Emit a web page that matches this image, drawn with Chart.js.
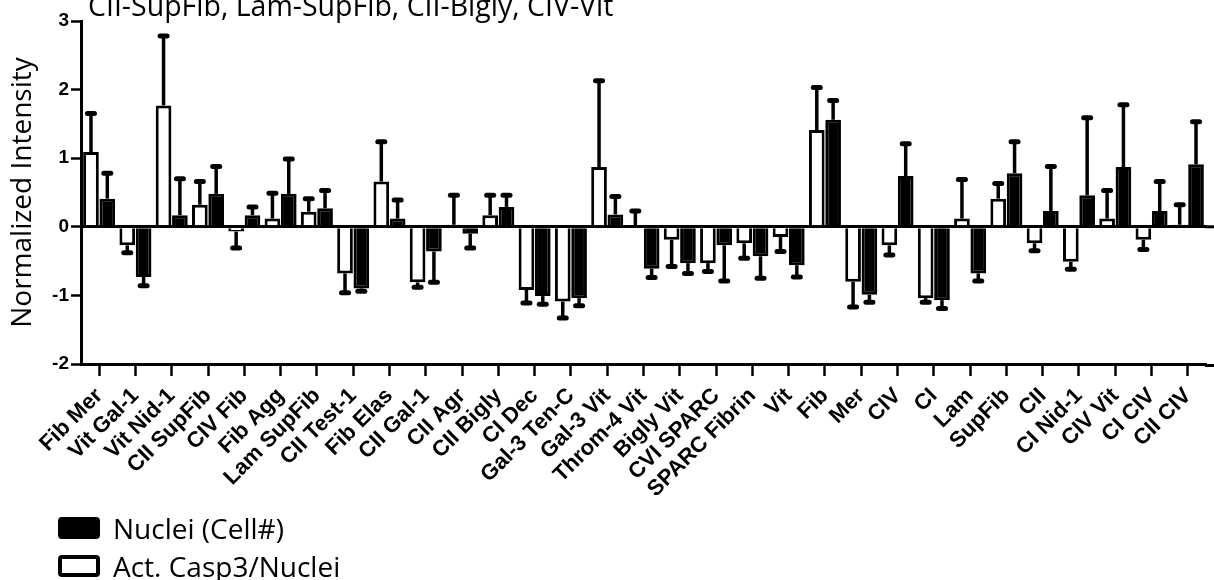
<!DOCTYPE html>
<html>
<head>
<meta charset="utf-8">
<script src="https://cdn.jsdelivr.net/npm/chart.js@4"></script>
<style>
  body { margin: 0; background: #fff; }
  #wrap { position: relative; width: 1214px; height: 580px; overflow: hidden; }
  #chart { position: absolute; left: 0; top: 0; }
  #note { position: absolute; left: 88px; top: -14px; font: 28.5px "Open Sans", sans-serif; color: #000; white-space: nowrap; }
  #legend { position: absolute; left: 58px; top: 509px; font: 28px "Open Sans", sans-serif; color: #000; }
  .item { display: flex; align-items: center; height: 38px; }
  .box { width: 42px; height: 22px; box-sizing: border-box; border: 4px solid #000; border-radius: 4px; margin-right: 13px; }
</style>
</head>
<body>
<div id="wrap">
  <canvas id="chart" width="1214" height="580"></canvas>
  <div id="note">CII-SupFib, Lam-SupFib, CII-Bigly, CIV-Vit</div>
  <div id="legend"></div>
</div>
<script>
const chartEl = document.getElementById("chart");
//categories on the x axis
const labels = ["Fib Mer", "Vit Gal-1", "Vit Nid-1", "CII SupFib", "CIV Fib", "Fib Agg", "Lam SupFib", "CII Test-1", "Fib Elas", "CII Gal-1", "CII Agr", "CII Bigly", "CI Dec", "Gal-3 Ten-C", "Gal-3 Vit", "Throm-4 Vit", "Bigly Vit", "CVI SPARC", "SPARC Fibrin", "Vit", "Fib", "Mer", "CIV", "CI", "Lam", "SupFib", "CII", "CI Nid-1", "CIV Vit", "CI CIV", "CII CIV"];
//Act. Casp3/Nuclei (white bars) and its error
const caspValues = [1.09, -0.27, 1.77, 0.32, -0.07, 0.12, 0.22, -0.68, 0.66, -0.81, 0.03, 0.17, -0.92, -1.09, 0.87, 0.02, -0.19, -0.53, -0.24, -0.15, 1.41, -0.80, -0.27, -1.04, 0.12, 0.41, -0.24, -0.51, 0.12, -0.19, 0.03];
const caspErr = [0.56, 0.11, 1.01, 0.34, 0.24, 0.37, 0.19, 0.28, 0.58, 0.07, 0.43, 0.29, 0.19, 0.24, 1.26, 0.21, 0.39, 0.12, 0.22, 0.21, 0.62, 0.37, 0.14, 0.06, 0.57, 0.22, 0.11, 0.11, 0.41, 0.14, 0.29];
//Nuclei (Cell#) (black bars) and its error
const nucleiValues = [0.41, -0.73, 0.17, 0.48, 0.17, 0.48, 0.27, -0.90, 0.12, -0.36, -0.10, 0.29, -1.01, -1.04, 0.18, -0.61, -0.53, -0.27, -0.43, -0.56, 1.56, -0.99, 0.74, -1.07, -0.68, 0.78, 0.23, 0.46, 0.87, 0.23, 0.91];
const nucleiErr = [0.37, 0.13, 0.53, 0.40, 0.12, 0.51, 0.26, 0.04, 0.27, 0.45, 0.21, 0.17, 0.12, 0.11, 0.26, 0.13, 0.15, 0.52, 0.32, 0.17, 0.28, 0.11, 0.47, 0.12, 0.11, 0.46, 0.65, 1.13, 0.91, 0.43, 0.62];
//y axis ticks
const yTicks = [-2, -1, 0, 1, 2, 3];

//one sided error bars, drawn away from zero
const errorBars = {
  id: "errorBars",
  afterDatasetsDraw(chart) {
    const ctx = chart.ctx;
    const y = chart.scales.y;
    chart.data.datasets.forEach((ds, di) => {
      const meta = chart.getDatasetMeta(di);
      meta.data.forEach((bar, i) => {
        const v = ds.data[i];
        const end = y.getPixelForValue(v + (v < 0 ? -1 : 1) * ds.errors[i]);
        ctx.save();
        ctx.strokeStyle = "#000";
        ctx.lineWidth = 3.5;
        ctx.beginPath();
        ctx.moveTo(bar.x, bar.y);
        ctx.lineTo(bar.x, end);
        ctx.stroke();
        ctx.lineWidth = 5;
        ctx.lineCap = "round";
        ctx.beginPath();
        ctx.moveTo(bar.x - 3.5, end);
        ctx.lineTo(bar.x + 3.5, end);
        ctx.stroke();
        ctx.restore();
      });
    });
  }
};

//the original's zero line and x axis run on to the right edge
const axisRun = {
  id: "axisRun",
  afterDraw(chart) {
    const ctx = chart.ctx;
    const area = chart.chartArea;
    const y = chart.scales.y;
    ctx.save();
    ctx.strokeStyle = "#000";
    ctx.lineWidth = 3;
    [y.getPixelForValue(0), area.bottom + 1.5].forEach((py) => {
      ctx.beginPath();
      ctx.moveTo(area.right - 1, py);
      ctx.lineTo(chart.width, py);
      ctx.stroke();
    });
    ctx.restore();
  }
};

let myChart = new Chart(chartEl, {
  type: "bar",
  plugins: [errorBars, axisRun],
  data: {
    labels: labels,
    datasets: [
      {
        label: "Act. Casp3/Nuclei",
        data: caspValues,
        errors: caspErr,
        backgroundColor: "#ffffff",
        borderColor: "#000000",
        borderWidth: 3,
      },
      {
        label: "Nuclei (Cell#)",
        data: nucleiValues,
        errors: nucleiErr,
        backgroundColor: "#000000",
        borderColor: "#000000",
        borderWidth: 3,
      },
    ],
  },
  options: {
    responsive: false,
    animation: false,
    layout: { padding: { top: 21, right: 8, left: 0, bottom: 0 } },
    datasets: { bar: { categoryPercentage: 0.9, barPercentage: 0.96 } },
    plugins: {
      legend: { display: false },
      tooltip: { enabled: false },
    },
    scales: {
      x: {
        offset: true,
        afterFit: (scale) => { scale.height = 216; },
        border: { color: "#000", width: 3 },
        grid: { offset: false, drawOnChartArea: false, tickColor: "#000", tickLength: 12, tickWidth: 2.5 },
        ticks: {
          autoSkip: false,
          maxRotation: 45,
          minRotation: 45,
          padding: 7,
          color: "#000",
          font: { family: "Liberation Sans", weight: "bold", size: 22 },
        },
      },
      y: {
        min: -2,
        max: 3,
        afterFit: (scale) => { scale.width = 81; },
        afterBuildTicks: (scale) => { scale.ticks = yTicks.map(v => ({ value: v })); },
        border: { color: "#000", width: 3 },
        grid: {
          color: (c) => (c.tick && c.tick.value === 0 ? "#000" : "rgba(0,0,0,0)"),
          lineWidth: 3,
          tickColor: "#000",
          tickLength: 10,
          tickWidth: 2.5,
        },
        ticks: {
          padding: 2,
          color: "#000",
          font: { family: "Liberation Sans", weight: "bold", size: 19 },
        },
        title: {
          display: true,
          text: "Normalized Intensity",
          color: "#000",
          padding: { top: 6, bottom: 0 },
          font: { family: "Open Sans", size: 28 },
        },
      },
    },
  },
});

//legend below the chart, Nuclei first like the original
const legendEl = document.getElementById("legend");
myChart.data.datasets.slice().reverse().forEach((ds) => {
  const item = document.createElement("div");
  item.className = "item";
  const box = document.createElement("span");
  box.className = "box";
  box.style.background = ds.backgroundColor;
  item.appendChild(box);
  item.appendChild(document.createTextNode(ds.label));
  legendEl.appendChild(item);
});
</script>
</body>
</html>
